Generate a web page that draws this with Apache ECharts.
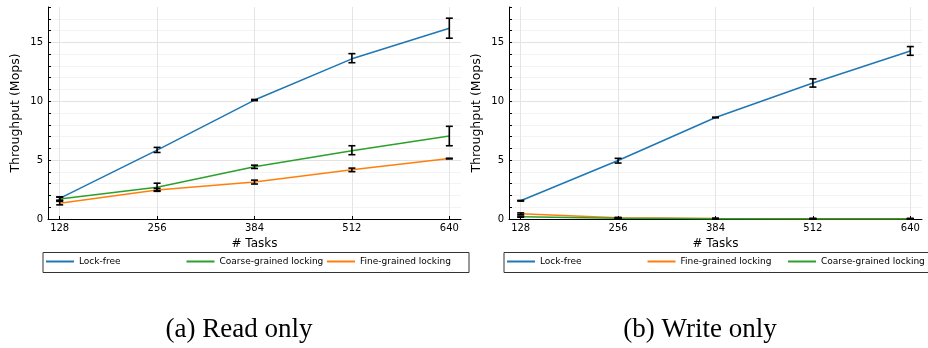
<!DOCTYPE html>
<html>
<head>
<meta charset="utf-8">
<script src="https://cdn.jsdelivr.net/npm/echarts@6/dist/echarts.min.js"></script>
<style>
  html, body { margin: 0; padding: 0; background: #fff; }
  #chart { width: 928px; height: 348px; }
</style>
</head>
<body>
<div id="chart"></div>
<script>
const tasks = [128, 256, 384, 512, 640];
const xTicks = [128, 256, 384, 512, 640];

// (a) Read only
const readLockFree = [1.75, 5.85, 10.1, 13.6, 16.2];
const readLockFreeErr = [[1.6, 1.88], [5.65, 6.08], [10.05, 10.15], [13.27, 14.04], [15.35, 17.05]];
const readCoarse = [1.7, 2.7, 4.43, 5.8, 7.05];
const readCoarseErr = [[1.55, 1.85], [2.4, 3.04], [4.29, 4.57], [5.46, 6.22], [6.22, 7.87]];
const readFine = [1.34, 2.47, 3.15, 4.18, 5.13];
const readFineErr = [[1.2, 1.5], [2.35, 2.6], [2.97, 3.3], [4.02, 4.32], [5.1, 5.16]];

// (b) Write only
const writeLockFree = [1.55, 4.97, 8.62, 11.55, 14.27];
const writeLockFreeErr = [[1.52, 1.58], [4.75, 5.15], [8.59, 8.65], [11.2, 11.9], [13.9, 14.64]];
const writeFine = [0.45, 0.1, 0.04, 0.03, 0.02];
const writeFineErr = [[0.38, 0.52], [0.06, 0.14], [0.02, 0.06], [0.01, 0.05], [0.0, 0.04]];
const writeCoarse = [0.2, 0.07, 0.03, 0.02, 0.02];
const writeCoarseErr = [[0.15, 0.25], [0.04, 0.1], [0.01, 0.05], [0.0, 0.04], [0.0, 0.04]];

const readOrder = ['Lock-free', 'Coarse-grained locking', 'Fine-grained locking'];
const writeOrder = ['Lock-free', 'Fine-grained locking', 'Coarse-grained locking'];

const BLUE = '#1f77b4', ORANGE = '#ff7f0e', GREEN = '#2ca02c';
const FONT = 'DejaVu Sans';

const chart = echarts.init(document.getElementById('chart'));

function xAxis(gridIndex) {
    return {
        type: 'value', gridIndex: gridIndex,
        min: 112.64, max: 655.36,
        name: '# Tasks', nameLocation: 'middle', nameGap: 17,
        nameTextStyle: {fontFamily: FONT, fontSize: 12, color: '#000'},
        axisLine: {show: true, onZero: false, lineStyle: {color: '#000', width: 1}},
        axisTick: {show: true, inside: true, length: 3, customValues: xTicks, lineStyle: {color: '#000'}},
        axisLabel: {customValues: xTicks, fontFamily: FONT, fontSize: 10, color: '#000', margin: 4},
        splitLine: {show: true, lineStyle: {color: '#e4e4e4', width: 1}}
    };
}

function yAxis(gridIndex) {
    return {
        type: 'value', gridIndex: gridIndex,
        min: 0, max: 18, interval: 1,
        name: 'Throughput (Mops)', nameLocation: 'middle', nameGap: 26,
        nameTextStyle: {fontFamily: FONT, fontSize: 12.5, color: '#000'},
        axisLine: {show: true, lineStyle: {color: '#000', width: 1}},
        axisTick: {show: true, inside: true, length: 3, lineStyle: {color: '#000'}},
        axisLabel: {
            fontFamily: FONT, fontSize: 10, color: '#000', margin: 5,
            formatter: v => (v % 5 === 0 ? String(v) : '')
        },
        splitLine: {
            show: true, showMaxLine: false,
            lineStyle: {color: ['#e2e2e2', '#f3f3f3', '#f3f3f3', '#f3f3f3', '#f3f3f3'], width: 1}
        }
    };
}

function lineSeries(name, values, color, idx) {
    return {
        name: name, type: 'line', xAxisIndex: idx, yAxisIndex: idx,
        data: tasks.map((t, i) => [t, values[i]]),
        showSymbol: false, color: color,
        lineStyle: {width: 1.5, color: color}, z: 2
    };
}

function errSeries(errs, idx) {
    return {
        type: 'custom', xAxisIndex: idx, yAxisIndex: idx, z: 3,
        data: tasks.map((t, i) => [t, errs[i][0], errs[i][1]]),
        encode: {x: 0, y: [1, 2]},
        renderItem: function (params, api) {
            const lo = api.coord([api.value(0), api.value(1)]);
            const hi = api.coord([api.value(0), api.value(2)]);
            const w = 3.5;
            const st = {stroke: '#000', lineWidth: 1.6};
            return {
                type: 'group',
                children: [
                    {type: 'line', shape: {x1: lo[0], y1: lo[1], x2: hi[0], y2: hi[1]}, style: st},
                    {type: 'line', shape: {x1: lo[0] - w, y1: lo[1], x2: lo[0] + w, y2: lo[1]}, style: st},
                    {type: 'line', shape: {x1: hi[0] - w, y1: hi[1], x2: hi[0] + w, y2: hi[1]}, style: st}
                ]
            };
        }
    };
}

// one legend per entry so that every entry sits in its own fixed-width column
function legendItems(boxLeft, names) {
    return names.map((n, i) => ({
        left: boxLeft + 4 + i * 140.5, top: 257, padding: 0,
        data: [{name: n, icon: 'rect'}],
        itemWidth: 28, itemHeight: 2,
        textStyle: {fontFamily: FONT, fontSize: 9, color: '#000'},
        selectedMode: false
    }));
}

function legendBox(left, width) {
    return {
        type: 'rect', left: left, top: 252, z: 0,
        shape: {width: width, height: 20},
        style: {fill: '#fff', stroke: '#333', lineWidth: 1}
    };
}

const option = {
    animation: false,
    backgroundColor: '#fff',
    grid: [
        {left: 48, top: 7, width: 413, height: 212},
        {left: 509, top: 7, width: 413, height: 212}
    ],
    xAxis: [xAxis(0), xAxis(1)],
    yAxis: [yAxis(0), yAxis(1)],
    legend: legendItems(42, readOrder).concat(legendItems(503, writeOrder)),
    graphic: [
        legendBox(42.5, 426),
        legendBox(503.5, 430),
        {type: 'text', x: 239, y: 330,
         style: {text: '(a) Read only', fontFamily: 'Liberation Serif', fontSize: 27, fill: '#000',
                 textAlign: 'center', textVerticalAlign: 'middle'}},
        {type: 'text', x: 700, y: 330,
         style: {text: '(b) Write only', fontFamily: 'Liberation Serif', fontSize: 27, fill: '#000',
                 textAlign: 'center', textVerticalAlign: 'middle'}}
    ],
    series: [
        lineSeries('Lock-free', readLockFree, BLUE, 0),
        lineSeries('Coarse-grained locking', readCoarse, GREEN, 0),
        lineSeries('Fine-grained locking', readFine, ORANGE, 0),
        errSeries(readLockFreeErr, 0),
        errSeries(readCoarseErr, 0),
        errSeries(readFineErr, 0),
        lineSeries('Lock-free', writeLockFree, BLUE, 1),
        lineSeries('Fine-grained locking', writeFine, ORANGE, 1),
        lineSeries('Coarse-grained locking', writeCoarse, GREEN, 1),
        errSeries(writeLockFreeErr, 1),
        errSeries(writeFineErr, 1),
        errSeries(writeCoarseErr, 1)
    ]
};

chart.setOption(option);
</script>
</body>
</html>
